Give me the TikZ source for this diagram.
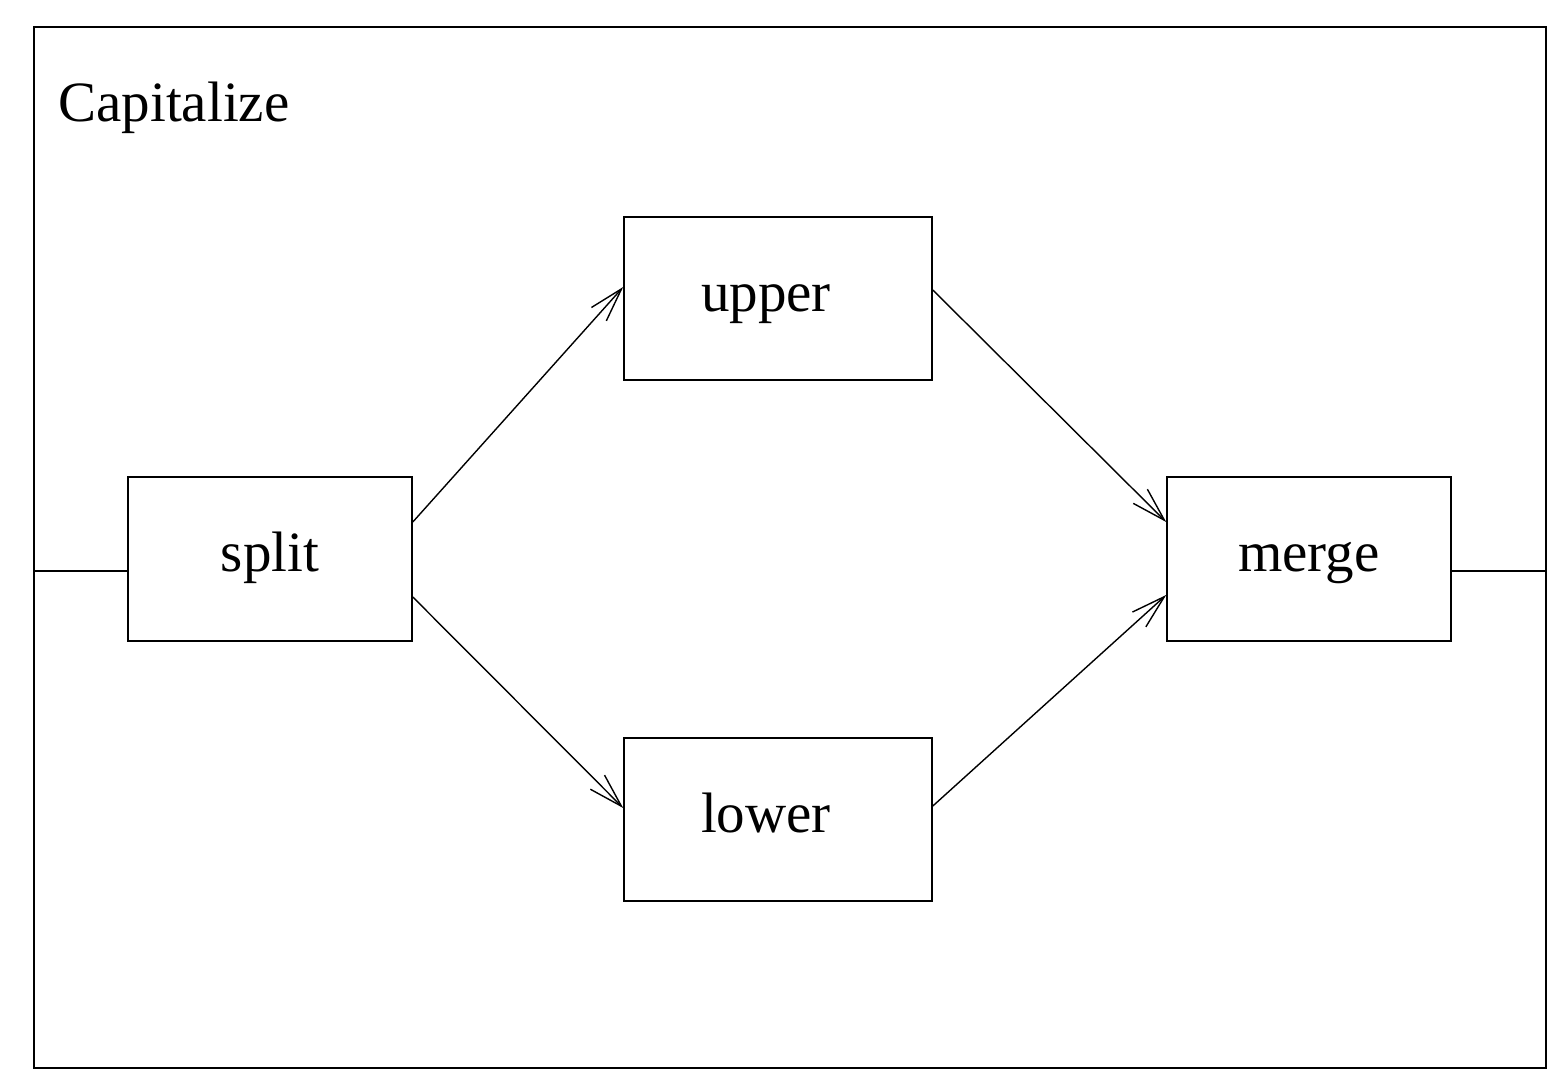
\documentclass[tikz,border=0pt]{standalone}
\usepackage{fontspec}
\setmainfont{Liberation Serif}
\usetikzlibrary{arrows.meta}
\begin{document}
\begin{tikzpicture}[x=0.5pt,y=-0.5pt,
  every node/.style={font=\fontsize{28.5pt}{34pt}\selectfont},
  box/.style={draw=black,line width=0.8pt,inner sep=0pt,text height=19pt,text depth=6.5pt},
  widebox/.style={box,minimum width=154pt,minimum height=81.5pt},
  narrowbox/.style={box,minimum width=142pt,minimum height=82pt},
  conn/.style={line width=0.7pt},
  arr/.style={conn,-{Straight Barb[length=17pt,width=10pt,line width=0.7pt]}}]
\useasboundingbox (0,0) rectangle (1558,1081);
\node[draw=black,line width=0.8pt,minimum width=756pt,minimum height=520.5pt,inner sep=0pt] (frame) at (790,547.5) {};
\node[anchor=base west,inner sep=0pt] (title) at (58,122) {Capitalize};
\node[narrowbox] (split) at (270,559) {split};
\node[widebox] (upper) at (778,298.5) {\hspace*{-12pt}upper};
\node[widebox] (lower) at (778,819.5) {\hspace*{-12pt}lower};
\node[narrowbox] (merge) at (1309,559) {merge};
\coordinate (inL) at (34,571);
\coordinate (outR) at (1546,571);
\draw[conn] (inL) -- ([yshift=-6pt]split.west);
\draw[conn] ([yshift=-6pt]merge.east) -- (outR);
\draw[arr] ([yshift=18.5pt]split.east) -- ([yshift=5.75pt]upper.west);
\draw[arr] ([yshift=-19pt]split.east) -- ([yshift=5.75pt]lower.west);
\draw[arr] ([yshift=4.25pt]upper.east) -- ([yshift=18.5pt]merge.west);
\draw[arr] ([yshift=6.75pt]lower.east) -- ([yshift=-18pt]merge.west);
\end{tikzpicture}
\end{document}
